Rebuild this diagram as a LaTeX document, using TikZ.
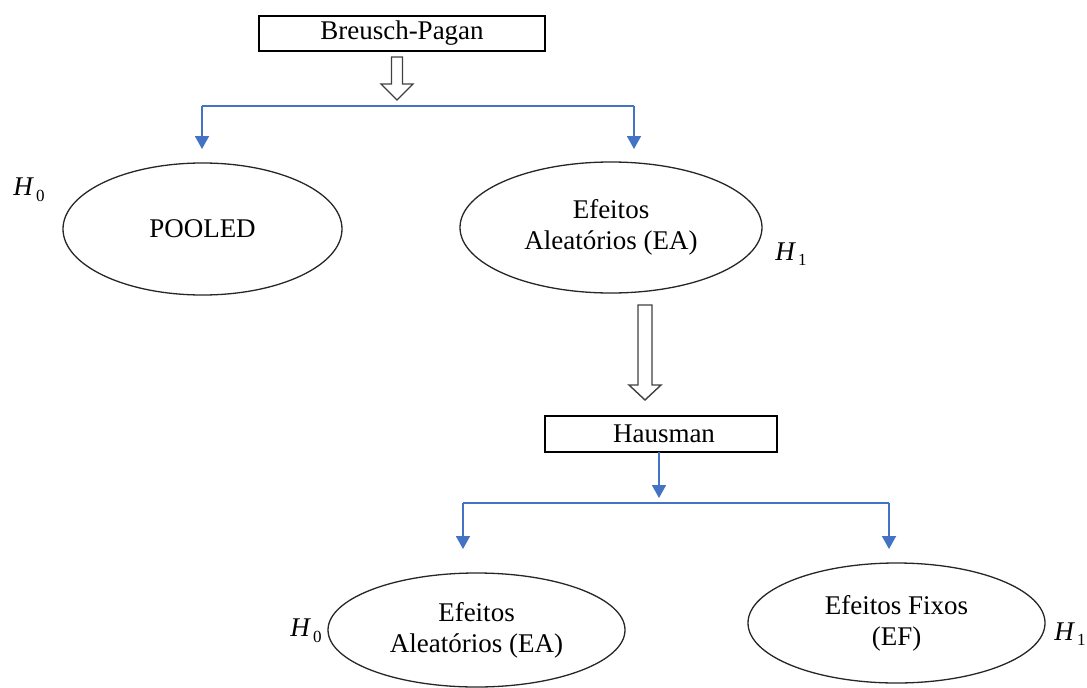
\documentclass[tikz,border=0pt]{standalone}
\usepackage{fontspec}
\setmainfont{Liberation Serif}
\usetikzlibrary{shapes.geometric,arrows.meta}
\definecolor{offblue}{HTML}{4472C4}
\definecolor{hollowgray}{HTML}{404040}
\newcommand{\hlab}[1]{\textit{H}\kern2pt\raisebox{-0.45ex}{\fontsize{17}{17}\selectfont #1}}
\begin{document}
\begin{tikzpicture}[x=1pt,y=-1pt,
  every node/.style={font=\fontsize{27}{31}\selectfont, inner sep=0pt, outer sep=0pt},
  testbox/.style={draw=black, line width=1.6pt, rectangle},
  oval/.style={draw=black!85, line width=1.3pt, ellipse, align=center},
  hollow/.style={draw=hollowgray, line width=1.4pt, fill=white, line join=miter},
  blueline/.style={draw=offblue, line width=1.8pt},
  bluearrow/.style={draw=offblue, line width=1.8pt, -{Triangle[length=13pt,width=14pt]}},
  hnode/.style={anchor=center}
]
\useasboundingbox (0,0) rectangle (1087,688);

% test boxes
\node[testbox, minimum width=286pt, minimum height=35pt] (bp) at (402,33.5) {Breusch-Pagan};
\node[testbox, minimum width=232pt, minimum height=36pt] (haus) at (661,434) {\hspace*{6pt}Hausman};

% ellipses
\node[oval, minimum width=279pt, minimum height=132pt] (pooled) at (202.5,229) {POOLED};
\node[oval, minimum width=302pt, minimum height=131pt] (ea1) at (611,227.5) {Efeitos\\Aleatórios (EA)};
\node[oval, minimum width=297pt, minimum height=114pt] (ea2) at (476.5,630) {Efeitos\\Aleatórios (EA)};
\node[oval, minimum width=297pt, minimum height=120pt] (ef) at (896.5,623) {Efeitos Fixos\\(EF)};

% hypothesis labels
\node[hnode] (h0a) at (29,190) {\hlab{0}};
\node[hnode] (h1a) at (791,254) {\hlab{1}};
\node[hnode] (h0b) at (306,631) {\hlab{0}};
\node[hnode] (h1b) at (1070,634) {\hlab{1}};

% hollow arrows
\coordinate (a1) at (bp.south -| 397,0);
\draw[hollow] (a1) ++(-5.5,6) -- ++(0,27) -- ++(-10.5,0) -- ++(16,16) -- ++(16,-16) -- ++(-10.5,0) -- ++(0,-27) -- cycle;
\coordinate (a2) at (645,305);
\draw[hollow] (a2) ++(-7,0) -- ++(0,80) -- ++(-9,0) -- ++(16,15) -- ++(16,-15) -- ++(-9,0) -- ++(0,-80) -- cycle;

% blue split after Breusch-Pagan
\coordinate (s1L) at (202,106);
\coordinate (s1R) at (634,106);
\coordinate (e1L) at (202,149);
\coordinate (e1R) at (634,149);
\draw[blueline] (s1L) -- (s1R);
\draw[bluearrow] (s1L) -- (e1L);
\draw[bluearrow] (s1R) -- (e1R);

% blue arrow from Hausman
\coordinate (hs) at (haus.south -| 659,0);
\coordinate (he) at (659,498);
\draw[bluearrow] (hs) -- (he);

% blue split after Hausman
\coordinate (s2L) at (463,503);
\coordinate (s2R) at (889,503);
\coordinate (e2L) at (463,549);
\coordinate (e2R) at (889,549);
\draw[blueline] (s2L) -- (s2R);
\draw[bluearrow] (s2L) -- (e2L);
\draw[bluearrow] (s2R) -- (e2R);
\end{tikzpicture}
\end{document}
